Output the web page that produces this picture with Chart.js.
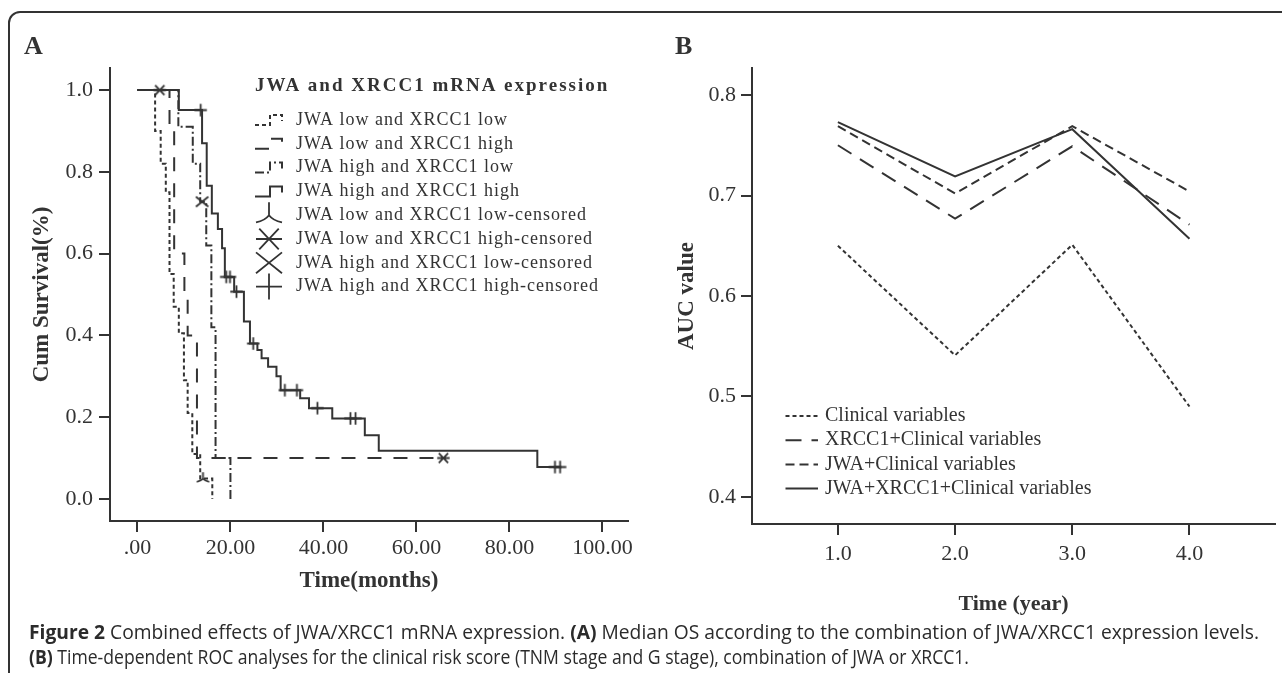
<!DOCTYPE html>
<html>
<head>
<meta charset="utf-8">
<script src="https://cdn.jsdelivr.net/npm/chart.js@4.4.1/dist/chart.umd.min.js"></script>
<style>
html,body{margin:0;padding:0;background:#fff;width:1282px;height:673px;overflow:hidden;position:relative}
#frame{position:absolute;left:8px;top:11px;width:1320px;height:700px;border:2px solid #333;border-radius:12px;box-sizing:border-box}
#wrapA{position:absolute;left:0;top:0;width:640px;height:620px}
#wrapB{position:absolute;left:640px;top:0;width:642px;height:620px}
.cap{position:absolute;left:29px;white-space:nowrap;font-family:"Open Sans","Noto Sans",sans-serif;font-size:20px;line-height:24px;color:#2b2b2b;transform-origin:0 50%}
.cap b{font-weight:bold}
</style>
</head>
<body>
<div id="frame"></div>
<div id="wrapA"><canvas id="chartA" width="640" height="620"></canvas></div>
<div id="wrapB"><canvas id="chartB" width="642" height="620"></canvas></div>
<div class="cap" id="cap1" style="top:620px"><b>Figure 2</b> Combined effects of JWA/XRCC1 mRNA expression. <b>(A)</b> Median OS according to the combination of JWA/XRCC1 expression levels.</div>
<div class="cap" id="cap2" style="top:645px"><b>(B)</b> Time-dependent ROC analyses for the clinical risk score (TNM stage and G stage), combination of JWA or XRCC1.</div>
<script>
// ---------------- Panel A data (Kaplan-Meier) ----------------
const kmTimeLowLow   = [0, 3.8, 5.0, 6.1, 6.9, 7.8, 8.9, 10.0, 10.8, 11.8, 13.5, 16.1];
const kmSurvLowLow   = [1.0, 0.90, 0.82, 0.75, 0.55, 0.47, 0.405, 0.29, 0.21, 0.11, 0.05, 0.0];
const kmTimeLowHigh  = [0, 6.9, 7.9, 10.1, 10.8, 12.8, 65.8];
const kmSurvLowHigh  = [1.0, 0.90, 0.60, 0.50, 0.40, 0.10, 0.10];
const kmTimeHighLow  = [0, 8.8, 11.9, 13.5, 14.8, 15.9, 16.8, 20.0];
const kmSurvHighLow  = [1.0, 0.91, 0.82, 0.727, 0.62, 0.42, 0.10, 0.0];
const kmTimeHighHigh = [0, 8.9, 13.9, 14.9, 16.0, 17.3, 18.2, 18.8, 20.8, 22.9, 24.2, 25.8, 26.7, 28.1, 29.9, 30.8, 35.0, 36.9, 41.9, 48.9, 51.9, 86.0, 90.9];
const kmSurvHighHigh = [1.0, 0.951, 0.87, 0.766, 0.698, 0.66, 0.613, 0.543, 0.507, 0.434, 0.38, 0.364, 0.344, 0.323, 0.30, 0.266, 0.246, 0.222, 0.197, 0.156, 0.118, 0.078, 0.078];

const censTimeLowLow   = [14.1];
const censSurvLowLow   = [0.05];
const censTimeLowHigh  = [4.8, 65.8];
const censSurvLowHigh  = [1.0, 0.10];
const censTimeHighLow  = [13.9];
const censSurvHighLow  = [0.727];
const censTimeHighHigh = [13.6, 19.1, 19.9, 21.3, 24.9, 31.7, 34.3, 38.7, 45.8, 46.9, 89.8, 90.9];
const censSurvHighHigh = [0.951, 0.543, 0.543, 0.507, 0.38, 0.266, 0.266, 0.222, 0.197, 0.197, 0.078, 0.078];

const xTicksA = [0, 20, 40, 60, 80, 100];
const yTicksA = [0, 0.2, 0.4, 0.6, 0.8, 1.0];
const legendTitleA = 'JWA and XRCC1 mRNA expression';
const legendLabelsA = [
  'JWA low and XRCC1 low',
  'JWA low and XRCC1 high',
  'JWA high and XRCC1 low',
  'JWA high and XRCC1 high',
  'JWA low and XRCC1 low-censored',
  'JWA low and XRCC1 high-censored',
  'JWA high and XRCC1 low-censored',
  'JWA high and XRCC1 high-censored'
];

// ---------------- Panel B data (time-dependent AUC) ----------------
const rocYears    = [1, 2, 3, 4];
const aucClinical = [0.650, 0.541, 0.651, 0.490];
const aucXrcc1    = [0.750, 0.677, 0.749, 0.671];
const aucJwa      = [0.769, 0.702, 0.769, 0.704];
const aucBoth     = [0.773, 0.719, 0.766, 0.657];
const yTicksB = [0.4, 0.5, 0.6, 0.7, 0.8];
const legendLabelsB = ['Clinical variables', 'XRCC1+Clinical variables', 'JWA+Clinical variables', 'JWA+XRCC1+Clinical variables'];

// ---------------- styles ----------------
const INK = '#333333';
const SERIF = '"Liberation Serif","Times New Roman",serif';
Chart.defaults.color = INK;
Chart.defaults.font.family = SERIF;

const dashA = [[4,3],[14,12],[9,3,2,3],[]];
const dashB = [[4,3],[16,10],[9,5],[]];

function pts(xs, ys){ return xs.map((x,i)=>({x:x, y:ys[i]})); }

function drawMarker(g, kind, cx, cy, r){
  g.beginPath();
  if(kind==='plus'){ g.moveTo(cx, cy-r); g.lineTo(cx, cy+r); g.moveTo(cx-r, cy); g.lineTo(cx+r, cy); }
  else if(kind==='x'){ g.moveTo(cx-r, cy-r*0.8); g.lineTo(cx+r, cy+r*0.8); g.moveTo(cx-r, cy+r*0.8); g.lineTo(cx+r, cy-r*0.8); }
  else if(kind==='star'){ g.moveTo(cx-r, cy); g.lineTo(cx+r, cy); g.moveTo(cx-r*0.75, cy-r*0.8); g.lineTo(cx+r*0.75, cy+r*0.8); g.moveTo(cx-r*0.75, cy+r*0.8); g.lineTo(cx+r*0.75, cy-r*0.8); }
  else if(kind==='tri'){ g.moveTo(cx, cy-r); g.lineTo(cx, cy); g.moveTo(cx-r, cy+r*0.55); g.quadraticCurveTo(cx-r*0.3, cy+r*0.4, cx, cy); g.quadraticCurveTo(cx+r*0.3, cy+r*0.4, cx+r, cy+r*0.55); }
  g.stroke();
}
function markerCanvas(kind){
  const s = 15; const c = document.createElement('canvas'); c.width = s; c.height = s;
  const g = c.getContext('2d'); g.strokeStyle = INK; g.lineWidth = 1.8; g.lineCap = 'butt';
  drawMarker(g, kind, s/2, s/2, 6.2);
  return c;
}
const markerKinds = ['tri','star','x','plus'];
const markers = markerKinds.map(markerCanvas);

function lineDs(xs, ys, dash){
  return { data: pts(xs, ys), stepped: true, borderColor: INK, borderWidth: 2, borderDash: dash,
           pointRadius: 0, fill: false, tension: 0, borderCapStyle: 'butt', borderJoinStyle: 'miter' };
}
function censDs(xs, ys, mk){
  return { data: pts(xs, ys), showLine: false, pointStyle: mk, pointRadius: 6, borderColor: INK, backgroundColor: INK };
}

function axisCommon(){
  return {
    grid: { display: true, drawOnChartArea: false, drawTicks: true, tickLength: 11, color: INK, lineWidth: 2 },
    border: { display: true, color: INK, width: 2 }
  };
}

// ---------------- Panel A ----------------
const panelAPlugin = {
  id: 'panelA',
  afterDraw(chart){
    const g = chart.ctx; g.save();
    g.fillStyle = INK; g.strokeStyle = INK; g.textBaseline = 'middle'; g.textAlign = 'left';
    g.font = 'bold 26px ' + SERIF; g.fillText('A', 24, 47);
    g.font = 'bold 19px ' + SERIF; g.letterSpacing = '2px';
    g.fillText(legendTitleA, 255, 86);
    g.letterSpacing = '1px';
    g.font = '18px ' + SERIF;
    for(let i=0;i<legendLabelsA.length;i++){
      const y = 120 + i*23.8;
      g.lineWidth = 2;
      if(i<4){
        g.setLineDash(dashA[i]);
        g.beginPath(); g.moveTo(255, y+5); g.lineTo(270, y+5); g.lineTo(270, y-5); g.lineTo(282, y-5); g.lineTo(282, y+1); g.stroke();
        g.setLineDash([]);
      } else {
        g.lineWidth = 1.8;
        drawMarker(g, markerKinds[i-4], 269, y, 13);
      }
      g.fillText(legendLabelsA[i], 296, y);
    }
    g.restore();
  }
};

new Chart(document.getElementById('chartA'), {
  type: 'line',
  data: { datasets: [
    lineDs(kmTimeLowLow, kmSurvLowLow, dashA[0]),
    lineDs(kmTimeLowHigh, kmSurvLowHigh, dashA[1]),
    lineDs(kmTimeHighLow, kmSurvHighLow, dashA[2]),
    lineDs(kmTimeHighHigh, kmSurvHighHigh, dashA[3]),
    censDs(censTimeLowLow, censSurvLowLow, markers[0]),
    censDs(censTimeLowHigh, censSurvLowHigh, markers[1]),
    censDs(censTimeHighLow, censSurvHighLow, markers[2]),
    censDs(censTimeHighHigh, censSurvHighHigh, markers[3])
  ]},
  options: {
    responsive: false, animation: false, events: [],
    layout: { padding: { left: 0, right: 12, top: 68, bottom: 0 } },
    plugins: { legend: { display: false }, tooltip: { enabled: false } },
    scales: {
      x: Object.assign(axisCommon(), {
        type: 'linear', min: -5.9, max: 105.5,
        afterBuildTicks: s => { s.ticks = xTicksA.map(v => ({ value: v })); },
        ticks: { callback: v => (v === 0 ? '.00' : Number(v).toFixed(2)), font: { size: 22, family: SERIF }, color: INK, padding: 3, maxRotation: 0, autoSkip: false },
        title: { display: true, text: 'Time(months)', font: { size: 23, weight: 'bold', family: SERIF }, color: INK, padding: { top: 0, bottom: 25 } },
        afterFit: s => { s.height = 99; }
      }),
      y: Object.assign(axisCommon(), {
        type: 'linear', min: -0.054, max: 1.054,
        afterBuildTicks: s => { s.ticks = yTicksA.map(v => ({ value: v })); },
        ticks: { callback: v => Number(v).toFixed(1), font: { size: 22, family: SERIF }, color: INK, padding: 6, autoSkip: false },
        title: { display: true, text: 'Cum Survival(%)', font: { size: 23, weight: 'bold', family: SERIF }, color: INK, padding: { top: 28, bottom: 0 } },
        afterFit: s => { s.width = 110; }
      })
    }
  },
  plugins: [panelAPlugin]
});

// ---------------- Panel B ----------------
const panelBPlugin = {
  id: 'panelB',
  afterDraw(chart){
    const g = chart.ctx; g.save();
    g.fillStyle = INK; g.strokeStyle = INK; g.textBaseline = 'middle'; g.textAlign = 'left';
    g.font = 'bold 26px ' + SERIF; g.fillText('B', 35, 47);
    g.font = '20px ' + SERIF;
    for(let i=0;i<legendLabelsB.length;i++){
      const y = 416 + i*24.2;
      g.lineWidth = 2; g.setLineDash(dashB[i]);
      g.beginPath(); g.moveTo(145.5, y); g.lineTo(178, y); g.stroke();
      g.setLineDash([]);
      g.fillText(legendLabelsB[i], 185, y);
    }
    g.restore();
  }
};

function rocDs(vals, dash){
  return { data: pts(rocYears, vals), borderColor: INK, borderWidth: 2, borderDash: dash, pointRadius: 0, fill: false, tension: 0, borderCapStyle: 'butt' };
}

new Chart(document.getElementById('chartB'), {
  type: 'line',
  data: { datasets: [
    rocDs(aucClinical, dashB[0]),
    rocDs(aucXrcc1, dashB[1]),
    rocDs(aucJwa, dashB[2]),
    rocDs(aucBoth, dashB[3])
  ]},
  options: {
    responsive: false, animation: false, events: [],
    layout: { padding: { left: 0, right: 7, top: 68, bottom: 0 } },
    plugins: { legend: { display: false }, tooltip: { enabled: false } },
    scales: {
      x: Object.assign(axisCommon(), {
        type: 'linear', min: 0.267, max: 4.73,
        afterBuildTicks: s => { s.ticks = rocYears.map(v => ({ value: v })); },
        ticks: { callback: v => Number(v).toFixed(1), font: { size: 22, family: SERIF }, color: INK, padding: 6, maxRotation: 0, autoSkip: false },
        title: { display: true, text: 'Time (year)', font: { size: 22, weight: 'bold', family: SERIF }, color: INK, padding: { top: 0, bottom: 2 } },
        afterFit: s => { s.height = 96; }
      }),
      y: Object.assign(axisCommon(), {
        type: 'linear', min: 0.3731, max: 0.8269,
        afterBuildTicks: s => { s.ticks = yTicksB.map(v => ({ value: v })); },
        ticks: { callback: v => Number(v).toFixed(1), font: { size: 22, family: SERIF }, color: INK, padding: 5, autoSkip: false },
        title: { display: true, text: 'AUC value', font: { size: 23, weight: 'bold', family: SERIF }, color: INK, padding: { top: 33, bottom: 0 } },
        afterFit: s => { s.width = 112; }
      })
    }
  },
  plugins: [panelBPlugin]
});

// ---------------- caption fit ----------------
(function(){
  const c1 = document.getElementById('cap1'), c2 = document.getElementById('cap2');
  const w1 = c1.getBoundingClientRect().width;
  const w2 = c2.getBoundingClientRect().width;
  c1.style.transform = 'scaleX(' + (1230 / w1) + ')';
  c2.style.transform = 'scaleX(' + (940 / w2) + ')';
})();
</script>
</body>
</html>
